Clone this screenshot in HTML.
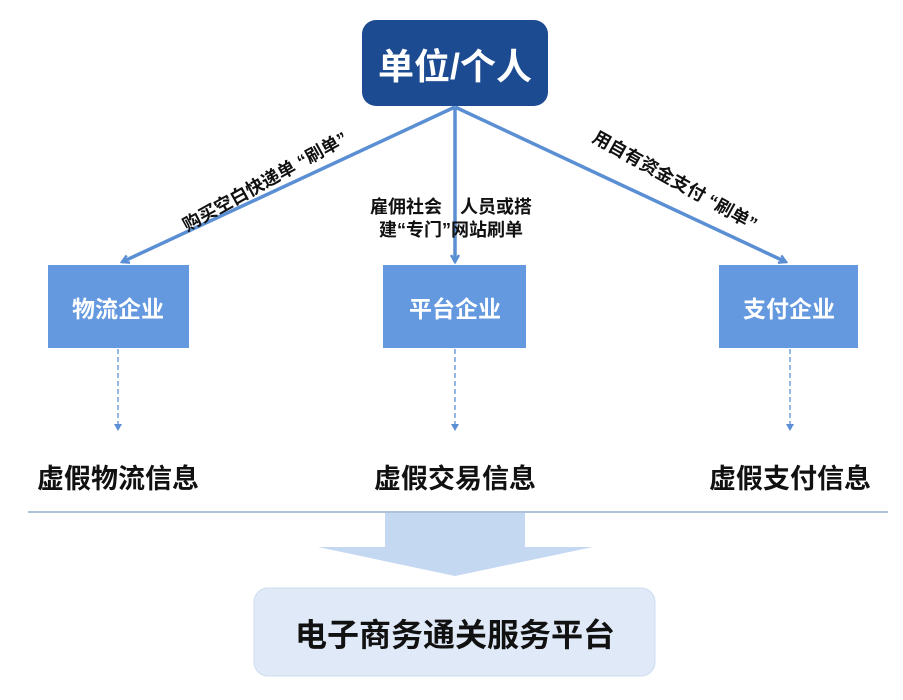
<!DOCTYPE html>
<html><head><meta charset="utf-8"><style>
body{margin:0;width:903px;height:700px;background:#fff;overflow:hidden;font-family:"Liberation Sans","Noto Sans CJK SC",sans-serif;font-weight:bold}
.a{position:absolute}
</style></head><body>
<svg class="a" style="left:0;top:0" width="903" height="700">
<defs><marker id="m" markerWidth="10" markerHeight="10" refX="8" refY="5" orient="auto" markerUnits="userSpaceOnUse"><path d="M1,1 L8,5 L1,9" fill="none" stroke="#5b8fd4" stroke-width="2.5"/></marker>
<marker id="d" markerWidth="8" markerHeight="8" refX="4" refY="6" orient="0" markerUnits="userSpaceOnUse"><path d="M0,0 L4,7 L8,0z" fill="#5b8fd4"/></marker></defs>
<g stroke="#5b8fd4" stroke-width="3.5" fill="none">
<line x1="455" y1="107" x2="122" y2="262" marker-end="url(#m)"/>
<line x1="455" y1="107" x2="455" y2="262" marker-end="url(#m)"/>
<line x1="455" y1="107" x2="786" y2="262" marker-end="url(#m)"/>
</g>
<g stroke="#5b8fd4" stroke-width="1.3" stroke-dasharray="5,3">
<line x1="118" y1="349" x2="118" y2="430" marker-end="url(#d)"/>
<line x1="455" y1="349" x2="455" y2="430" marker-end="url(#d)"/>
<line x1="790" y1="349" x2="790" y2="430" marker-end="url(#d)"/>
</g>
<line x1="28" y1="512" x2="888" y2="512" stroke="#7f9cc0" stroke-width="1.3"/>
<path d="M385,513 H525 V547 H593 L455,576 L318,547 H385Z" fill="#c5d8f2"/>
<rect x="362" y="20" width="186" height="86" rx="14" fill="#1d4b91"/>
<rect x="48" y="265" width="141" height="83" fill="#6499e0"/>
<rect x="383" y="265" width="143" height="83" fill="#6499e0"/>
<rect x="719" y="265" width="139" height="83" fill="#6499e0"/>
<rect x="254" y="588" width="401" height="88" rx="14" fill="#dfe9f7" stroke="#cfdcef"/>
<g font-family="Liberation Sans,Noto Sans CJK SC,sans-serif" font-weight="bold" text-anchor="middle">
<text x="455" y="79" font-size="36" fill="#fff">单位/个人</text>
<text x="118" y="317" font-size="23" fill="#fff">物流企业</text>
<text x="455" y="317" font-size="23" fill="#fff">平台企业</text>
<text x="789" y="317" font-size="23" fill="#fff">支付企业</text>
<text x="118" y="488" font-size="27" fill="#111">虚假物流信息</text>
<text x="455" y="488" font-size="27" fill="#111">虚假交易信息</text>
<text x="790" y="488" font-size="27" fill="#111">虚假支付信息</text>
<text x="455" y="646" font-size="32" fill="#111">电子商务通关服务平台</text>
<text x="268" y="187" font-size="18" fill="#111" transform="rotate(-29 268 187)">购买空白快递单 “刷单”</text>
<text x="672" y="186" font-size="18" fill="#111" transform="rotate(29 672 186)">用自有资金支付 “刷单”</text>
<text x="451" y="213" font-size="18" fill="#111">雇佣社会　人员或搭</text>
<text x="451" y="236" font-size="18" fill="#111">建“专门”网站刷单</text>
</g>
</svg>
</body></html>
